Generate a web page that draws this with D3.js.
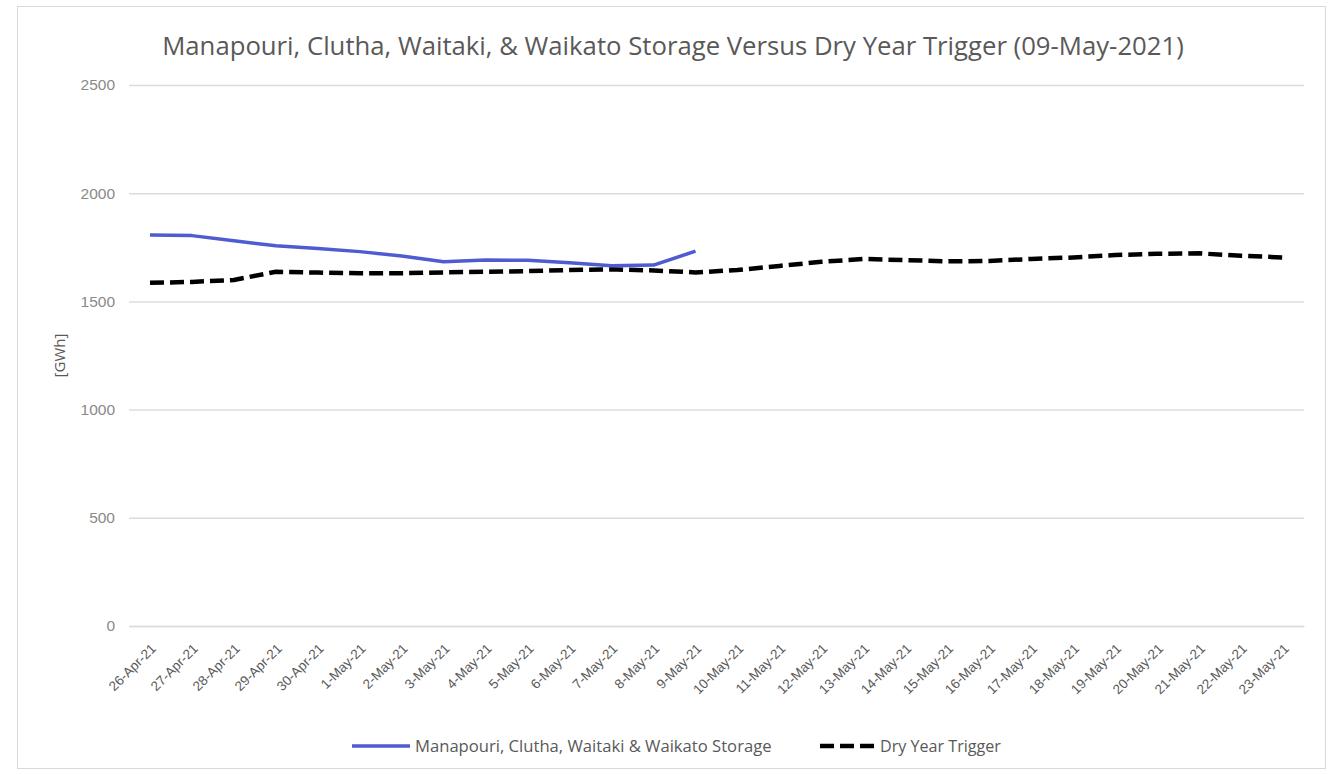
<!DOCTYPE html>
<html>
<head>
<meta charset="utf-8">
<style>
  body { margin: 0; background: #fff; }
  svg { display: block; font-family: "Open Sans", "Noto Sans", sans-serif; }
</style>
</head>
<body>
<svg width="1332" height="774"></svg>
<script src="https://cdn.jsdelivr.net/npm/d3@7"></script>
<script>

var dates = ["26-Apr-21", "27-Apr-21", "28-Apr-21", "29-Apr-21", "30-Apr-21", "1-May-21", "2-May-21",
    "3-May-21", "4-May-21", "5-May-21", "6-May-21", "7-May-21", "8-May-21", "9-May-21",
    "10-May-21", "11-May-21", "12-May-21", "13-May-21", "14-May-21", "15-May-21", "16-May-21",
    "17-May-21", "18-May-21", "19-May-21", "20-May-21", "21-May-21", "22-May-21", "23-May-21"];

// storage only runs up to 9-May
var storage = [1807, 1804, 1780, 1757, 1745, 1730, 1710, 1683, 1691, 1690, 1679, 1665, 1668, 1732];

var trigger = [1586, 1590, 1599, 1637, 1633, 1630, 1630, 1634, 1637, 1640, 1645, 1648, 1643, 1634,
    1645, 1664, 1683, 1696, 1691, 1685, 1687, 1696, 1703, 1714, 1720, 1722, 1711, 1703];

var yTicks = [0, 500, 1000, 1500, 2000, 2500];

var svg = d3.select("svg"),
    margin = {top: 85, right: 28, bottom: 148, left: 129},
    width = +svg.attr("width") - margin.left - margin.right,
    height = +svg.attr("height") - margin.top - margin.bottom;

// shrink/grow a text's font so it spans a given width
function fit(sel, w) {
  var fs = +sel.attr("font-size");
  var len = sel.node().getComputedTextLength();
  sel.attr("font-size", fs * w / len);
}

svg.append("rect")
    .attr("x", 17.5).attr("y", 6.5)
    .attr("width", 1308).attr("height", 762)
    .attr("fill", "none")
    .attr("stroke", "#d9d9d9");

var g = svg.append("g").attr("transform", "translate(" + margin.left + "," + margin.top + ")");

var x = d3.scalePoint()
    .domain(dates)
    .range([0, width])
    .padding(0.5);

var y = d3.scaleLinear()
    .domain([0, 2500])
    .range([height, 0]);

// gridlines + y labels
g.append("g")
    .call(d3.axisLeft(y).tickValues(yTicks).tickFormat(d3.format("d")).tickSize(-width).tickPadding(14))
    .call(function(a) { a.select(".domain").remove(); })
    .call(function(a) {
      a.selectAll("line").attr("stroke", "#dcdcdc").attr("stroke-width", 1.5);
      a.selectAll("text").attr("fill", "#8a8a8a").attr("font-size", 15.5).attr("font-family", "inherit");
    });

// x labels
g.append("g")
    .attr("transform", "translate(0," + height + ")")
    .call(d3.axisBottom(x).tickSize(0).tickPadding(0))
    .call(function(a) { a.select(".domain").attr("stroke", "#dcdcdc").attr("stroke-width", 1.5); })
    .selectAll("text")
      .attr("fill", "#595959")
      .attr("font-size", 13.5)
      .attr("font-family", "inherit")
      .attr("text-anchor", "end")
      .attr("dy", "0.35em")
      .attr("transform", "translate(3,20) rotate(-45)");

var line = d3.line()
    .x(function(d, i) { return x(dates[i]); })
    .y(function(d) { return y(d); });

g.append("path")
    .datum(trigger)
    .attr("fill", "none")
    .attr("stroke", "#000")
    .attr("stroke-width", 4.5)
    .attr("stroke-dasharray", "14,6")
    .attr("d", line);

g.append("path")
    .datum(storage)
    .attr("fill", "none")
    .attr("stroke", "#4f5bd0")
    .attr("stroke-width", 3.5)
    .attr("stroke-linejoin", "round")
    .attr("d", line);

// title
svg.append("text")
    .attr("x", 673)
    .attr("y", 55)
    .attr("text-anchor", "middle")
    .attr("fill", "#595959")
    .attr("font-size", 24)
    .text("Manapouri, Clutha, Waitaki, & Waikato Storage Versus Dry Year Trigger (09-May-2021)")
    .call(fit, 1022);

// y axis title
svg.append("text")
    .attr("transform", "translate(65," + (margin.top + height / 2) + ") rotate(-90)")
    .attr("text-anchor", "middle")
    .attr("fill", "#595959")
    .attr("font-size", 15)
    .text("[GWh]");

// legend
var legend = svg.append("g").attr("transform", "translate(0,746)");

legend.append("line")
    .attr("x1", 352).attr("x2", 410)
    .attr("stroke", "#4f5bd0").attr("stroke-width", 3.5);
legend.append("text")
    .attr("x", 415).attr("dy", "0.35em")
    .attr("fill", "#595959").attr("font-size", 14)
    .text("Manapouri, Clutha, Waitaki & Waikato Storage")
    .call(fit, 357);

legend.append("line")
    .attr("x1", 820).attr("x2", 874)
    .attr("stroke", "#000").attr("stroke-width", 4.5)
    .attr("stroke-dasharray", "14,6");
legend.append("text")
    .attr("x", 880).attr("dy", "0.35em")
    .attr("fill", "#595959").attr("font-size", 14)
    .text("Dry Year Trigger")
    .call(fit, 121);

</script>
</body>
</html>
